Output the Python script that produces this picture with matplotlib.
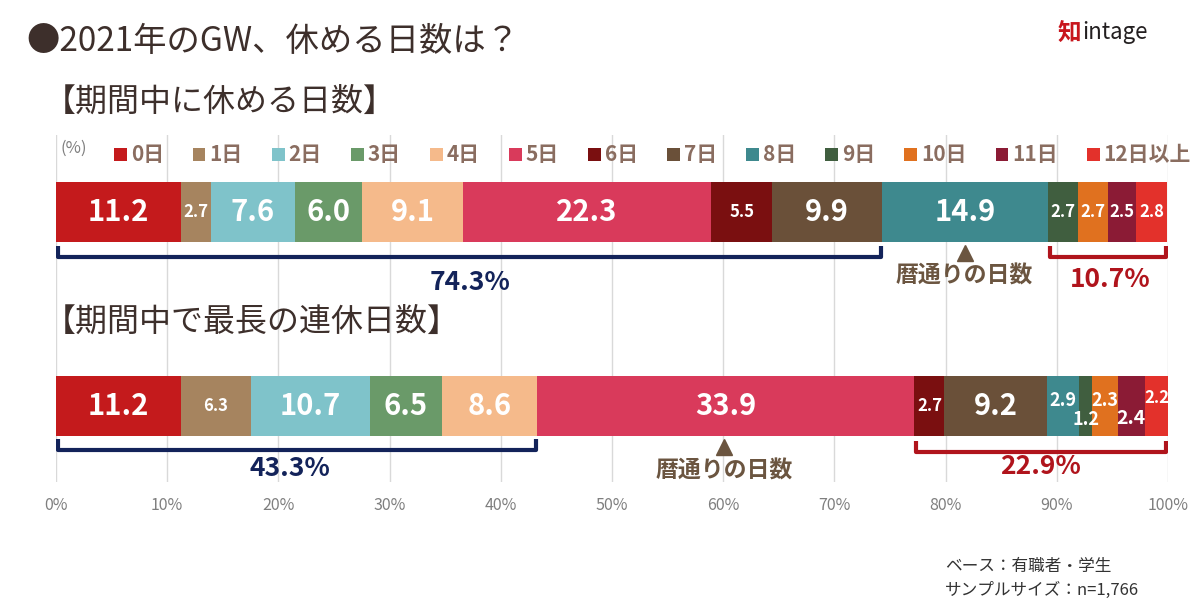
import numpy as np
import matplotlib.pyplot as plt
from matplotlib.patches import Patch

plt.rcParams['font.family'] = ['Noto Sans CJK JP', 'DejaVu Sans']

categories = ['0日', '1日', '2日', '3日', '4日', '5日', '6日', '7日', '8日', '9日', '10日', '11日', '12日以上']
colors = ['#C41A1C', '#A6845F', '#7FC3CA', '#6A9A69', '#F5BA8B', '#D93A5B', '#7A0F10',
          '#6A5039', '#3E898E', '#405E3F', '#E0711F', '#8B1B35', '#E3312B']

holidays = [11.2, 2.7, 7.6, 6.0, 9.1, 22.3, 5.5, 9.9, 14.9, 2.7, 2.7, 2.5, 2.8]
longest = [11.2, 6.3, 10.7, 6.5, 8.6, 33.9, 2.7, 9.2, 2.9, 1.2, 2.3, 2.4, 2.2]

W, H = 1200, 615
fig = plt.figure(figsize=(12, 6.15), dpi=100)
# axes covers pixel rows 135..482, y axis in pixels (inverted)
ax = fig.add_axes([56 / W, (H - 482) / H, 1112 / W, (482 - 135) / H])
ax.set_xlim(0, 100)
ax.set_ylim(482, 135)

rows = [(holidays, 212), (longest, 406)]
bar_h = 60

for vals, yc in rows:
    left = np.concatenate([[0], np.cumsum(vals)[:-1]])
    ax.barh(yc, vals, left=left, height=bar_h, color=colors, linewidth=0)

# labels, row 1
left1 = np.concatenate([[0], np.cumsum(holidays)[:-1]])
for i, v in enumerate(holidays):
    size = 21 if v >= 6 else 12
    ax.text(left1[i] + v / 2, 212, f'{v:.1f}', ha='center', va='center',
            color='white', fontsize=size, fontweight='bold')

# labels, row 2 (small segments staggered)
left2 = np.concatenate([[0], np.cumsum(longest)[:-1]])
dy2 = [0, 0, 0, 0, 0, 0, 0, 0, -5, 14, -5, 13, -8]
for i, v in enumerate(longest):
    if v >= 6.4:
        size = 21
    elif i in (8, 9, 10, 11):
        size = 14 if i == 11 else 13
    else:
        size = 12
    ax.text(left2[i] + v / 2, 406 + dy2[i], f'{v:.1f}', ha='center', va='center',
            color='white', fontsize=size, fontweight='bold')


def bracket(x0, x1, ytop, ybot, color):
    ax.plot([x0 + 0.15, x0 + 0.15, x1 - 0.15, x1 - 0.15], [ytop, ybot, ybot, ytop],
            color=color, lw=3, solid_joinstyle='round', solid_capstyle='butt', zorder=3)


navy = '#13235A'
dred = '#B0141C'
brown = '#6B5540'

cum1 = np.cumsum(holidays)
cum2 = np.cumsum(longest)
s1 = sum(holidays[:8])
r1 = sum(holidays[9:])
s2 = sum(longest[:5])
r2 = sum(longest[6:])

bracket(0, cum1[7], 246, 257, navy)
bracket(cum1[8], 100, 246, 257, dred)
ax.text(37.2, 283, f'{s1:.1f}%', ha='center', va='center', color=navy,
        fontsize=19, fontweight='bold')
ax.text(94.8, 280, f'{r1:.1f}%', ha='center', va='center',
        color=dred, fontsize=19, fontweight='bold')

bracket(0, cum2[4], 439, 450, navy)
bracket(cum2[5], 100, 441, 452, dred)
ax.text(21.0, 469, f'{s2:.1f}%', ha='center', va='center', color=navy,
        fontsize=19, fontweight='bold')
ax.text(88.5, 467, f'{r2:.1f}%', ha='center', va='center',
        color=dred, fontsize=19, fontweight='bold')

# calendar-days markers
for xm, ym, yt in [(81.7, 253, 276), (60.1, 447, 471)]:
    ax.plot([xm], [ym], marker='^', color=brown, markersize=12, zorder=3)
    ax.text(xm, yt, '暦通りの日数', ha='center', va='center', color=brown,
            fontsize=16.5, fontweight='bold')

ax.set_xticks(np.arange(0, 101, 10))
ax.set_xticklabels([f'{t}%' for t in range(0, 101, 10)], color='#7F7F7F', fontsize=11.5)
ax.set_yticks([])
ax.tick_params(length=0, pad=11)
ax.grid(axis='x', color='#D9D9D9', lw=1)
ax.set_axisbelow(True)
for s in ax.spines.values():
    s.set_visible(False)

# legend
handles = [Patch(facecolor=c, edgecolor='none') for c in colors]
fig.legend(handles, categories, ncol=13, loc='center left',
           bbox_to_anchor=(114 / W, 1 - 155 / H), frameon=False,
           handlelength=0.6, handleheight=0.6, handletextpad=0.2,
           columnspacing=1.4, labelcolor='#8A6D60', borderaxespad=0, borderpad=0,
           prop={'size': 15, 'weight': 'bold', 'family': ['Noto Sans CJK JP', 'DejaVu Sans']})
fig.text(60 / W, 1 - 148 / H, '(%)', fontsize=12, color='#7F7F7F', va='center')

# titles
title_col = '#3D2F2B'
fig.text(26 / W, 1 - 42 / H, '●2021年のGW、休める日数は？', fontsize=24, color=title_col, va='center')
fig.text(44 / W, 1 - 102 / H, '【期間中に休める日数】', fontsize=23, color=title_col, va='center')
fig.text(44 / W, 1 - 322 / H, '【期間中で最長の連休日数】', fontsize=23, color=title_col, va='center')

# logo
fig.text(1058 / W, 1 - 34 / H, '知', fontsize=17, color='#C8161D', va='center', fontweight='bold')
fig.text(1082 / W, 1 - 33 / H, 'intage', fontsize=16, color='#231F20', va='center')

# notes
fig.text(945 / W, 1 - 567 / H, 'ベース：有職者・学生', fontsize=12, color='#333333', va='center')
fig.text(945 / W, 1 - 590 / H, 'サンプルサイズ：n=1,766', fontsize=12, color='#333333', va='center')

fig.savefig('out.png', dpi=100)
